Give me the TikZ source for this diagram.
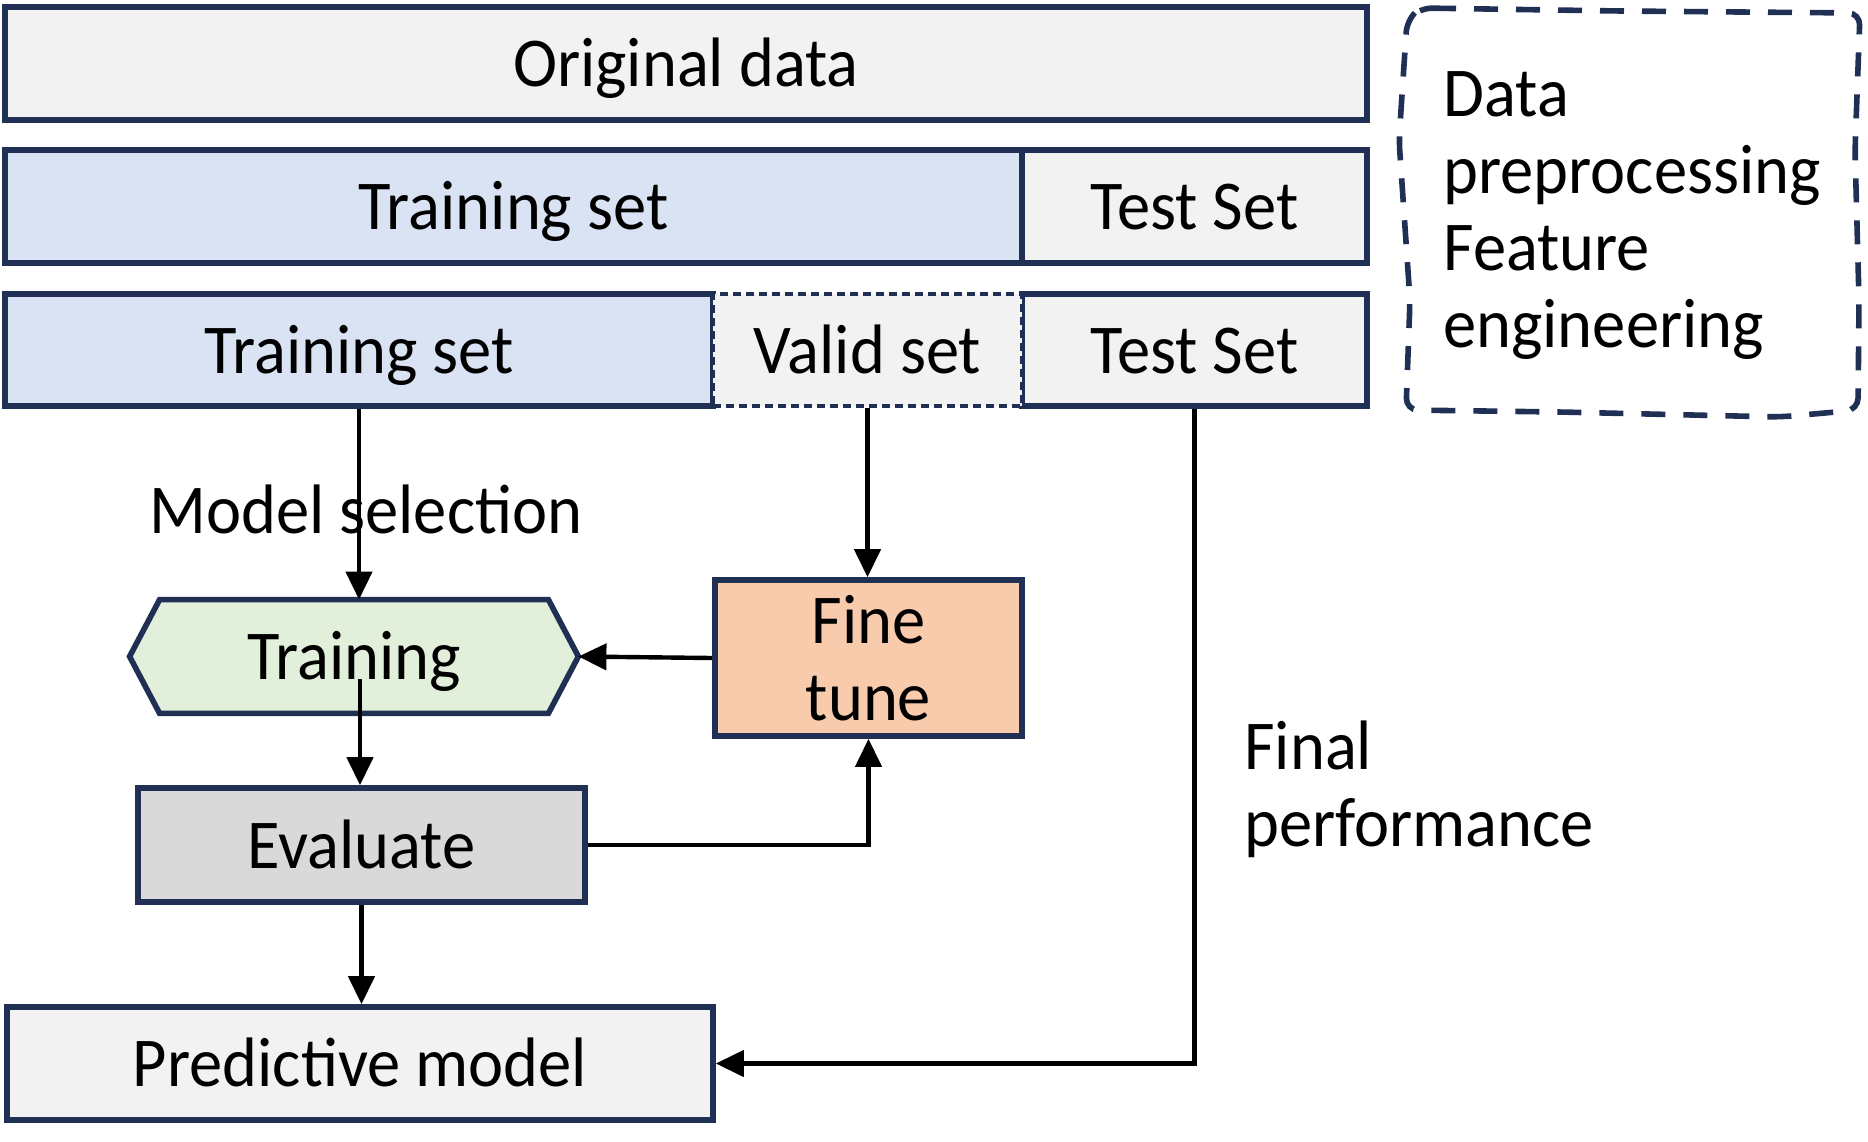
\documentclass[tikz,border=0pt]{standalone}
\usepackage{fontspec}
\setmainfont{Carlito}[FakeStretch=0.95]
\usetikzlibrary{arrows.meta,backgrounds,calc}
\definecolor{navy}{RGB}{31,48,84}
\definecolor{greyfill}{RGB}{242,242,242}
\definecolor{bluefill}{RGB}{218,227,243}
\definecolor{greenfill}{RGB}{226,239,218}
\definecolor{orangefill}{RGB}{248,203,173}
\definecolor{evalfill}{RGB}{217,217,217}
\begin{document}
\begin{tikzpicture}[x=0.5pt,y=-0.5pt,
  every node/.style={font=\fontsize{35pt}{38.5pt}\selectfont, inner sep=0pt},
  box/.style={draw=navy, line width=2.8pt, rectangle},
  oneline/.style={text height=26pt, text depth=2.8pt},
  conn/.style={draw=black, line width=2.2pt, -{Triangle[length=14pt,width=13pt]}},
  dashbox/.style={draw=navy, line width=2.8pt, dash pattern=on 12pt off 9pt, rounded corners=6pt}]
\useasboundingbox (0,0) rectangle (1868,1141);

% row 1
\node[box, oneline, fill=greyfill, minimum width=681pt, minimum height=56.5pt] (orig) at (686,63.5) {Original data};
% row 2
\node[box, oneline, fill=bluefill, minimum width=508.5pt, minimum height=56.5pt] (tr2) at (513.5,206.5) {Training set};
\node[box, oneline, fill=greyfill, minimum width=172.5pt, minimum height=56.5pt] (te2) at (1194.5,206.5) {Test Set};
% row 3
\node[box, oneline, fill=bluefill, minimum width=354pt, minimum height=56pt] (tr3) at (359,350) {Training set};
\node[box, oneline, fill=greyfill, minimum width=172.5pt, minimum height=56pt] (te3) at (1194.5,350) {Test Set};
\node[oneline, draw=navy, line width=1.8pt, dash pattern=on 4pt off 2.5pt, fill=greyfill, minimum width=154.5pt, minimum height=56pt] (va3) at (867.5,350) {Valid set};

% dashed preprocessing frame
\draw[dashbox] (1420,8) -- (1620,11) -- (1860,13) -- (1855,150) -- (1859,300) -- (1858,410) -- (1780,417) -- (1560,412) -- (1406,410) -- (1410,300) -- (1399,140) -- (1407,20) -- cycle;
\node[anchor=base west, align=left] (prep) at (1443,347) {Data\\preprocessing\\Feature\\engineering};

% model selection label
\node[anchor=base west] (msel) at (149,533) {Model selection};

% training hexagon
\node[oneline, minimum width=224pt, minimum height=56.5pt] (train) at (354,656.5) {Training};
\begin{scope}[on background layer]
\draw[navy, line width=2.8pt, fill=greenfill] (train.west) -- ([xshift=15pt]train.north west) -- ([xshift=-15pt]train.north east) -- (train.east) -- ([xshift=-15pt]train.south east) -- ([xshift=15pt]train.south west) -- cycle;
\end{scope}

% fine tune
\node[box, fill=orangefill, align=center, minimum width=153.5pt, minimum height=78pt] (fine) at (868.5,658) {Fine\\tune};
% evaluate
\node[box, oneline, fill=evalfill, minimum width=223.5pt, minimum height=57pt] (eval) at (361.5,845) {Evaluate};
% predictive model
\node[box, oneline, fill=greyfill, minimum width=353pt, minimum height=56.5pt] (pred) at (360,1063.5) {Predictive model};

% final performance label
\node[anchor=base west, align=left] (final) at (1244,846) {Final\\performance};

% connectors
\draw[conn] (tr3.south) -- (tr3.south |- train.north);
\draw[conn] (va3.south) -- (va3.south |- fine.north);
\draw[conn] (fine.west) -- (train.east);
\coordinate (tstart) at (360,679);
\draw[conn] (tstart) -- (tstart |- eval.north);
\draw[conn] (eval.east) -| (fine.south);
\draw[conn] (eval.south) -- (eval.south |- pred.north);
\draw[conn] (te3.south) |- (pred.east);
\end{tikzpicture}
\end{document}
